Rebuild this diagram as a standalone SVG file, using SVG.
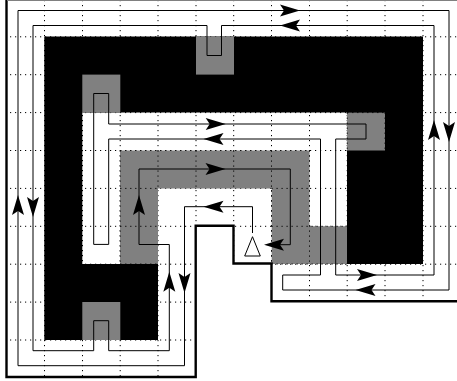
<svg xmlns="http://www.w3.org/2000/svg" width="457" height="381" viewBox="0 0 457 381">
<defs>
<style>
.blk{fill:#000}
.gry{fill:#808080}
.wire{fill:none;stroke:#000;stroke-width:1}
.edge{fill:none;stroke:#000;stroke-width:2.4}
.grid{fill:none;stroke:#000;stroke-width:1;stroke-dasharray:1.2 3.8}
</style>
<path id="ah" d="M0 0L-20 -6L-16 0L-20 6Z" fill="#000"/>
<clipPath id="inside"><path d="M6.5 0H457V301.3H271.5V263.5H233.5V225.7H195.7V377H6.5Z"/></clipPath>
</defs>
<rect width="457" height="381" fill="#fff"/>
<g clip-path="url(#inside)"><path class="grid" d="M44.5 0V381M82.5 0V381M120.2 0V381M158 0V381M196 0V381M233.7 0V381M271.5 0V381M309.5 0V381M347.2 0V381M385 0V381M423 0V381M0 36.8H457M0 74.7H457M0 112.6H457M0 150.5H457M0 188.4H457M0 226.3H457M0 264.2H457M0 302.1H457M0 340H457"/></g>
<path id="metal" class="blk" d="M44.3 36.6H423V264H347V112.6H82.3V264H158V340H44.3Z"/>
<g id="pads">
<rect class="gry" x="196" y="36.6" width="38" height="38"/>
<rect class="gry" x="82.3" y="74.6" width="38" height="38"/>
<rect class="gry" x="347" y="112.6" width="38" height="37.9"/>
<rect class="gry" x="82.3" y="302" width="38" height="38"/>
<path class="gry" d="M120 150.5H309.5V226.3H347V264H271.7V188.4H158V264H120Z"/>
</g>
<path class="grid" d="M120.2 150.5V264M158 150.5V188.4M196 150.5V188.4M233.7 150.5V188.4M271.5 150.5V264M309.5 150.5V264M120.2 150.5H309.5M120.2 188.4H158M271.5 188.4H309.5M120.2 226.3H158M271.5 226.3H347M120.2 264H158M271.5 264H347M347.2 112.6V150.5M385 112.6V150.5M347.2 112.6H385"/>
<g id="connectors">
<path class="wire" d="M252.5 233V206.7H184.5V365.7H18V10.5H449V290H282.7V275H320.5V139H108.7V244.4H93.7V93.5H108.7V124H366V139H335.7V275H434V25.5H221.5V55.5H207V25.5H33V350.7H93.7V320.7H108.7V350.7H169.3V244.5H139V169H290.3V244.7H270"/>
<use href="#ah" transform="translate(225.7 124)"/>
<use href="#ah" transform="translate(203.5 139) rotate(180)"/>
<use href="#ah" transform="translate(225.5 169)"/>
<use href="#ah" transform="translate(300 10.5)"/>
<use href="#ah" transform="translate(280 25.5) rotate(180)"/>
<use href="#ah" transform="translate(434 120) rotate(-90)"/>
<use href="#ah" transform="translate(449 142) rotate(90)"/>
<use href="#ah" transform="translate(18 195) rotate(-90)"/>
<use href="#ah" transform="translate(33 217) rotate(90)"/>
<use href="#ah" transform="translate(139 195) rotate(-90)"/>
<use href="#ah" transform="translate(203.5 206.7) rotate(180)"/>
<use href="#ah" transform="translate(169.3 271.7) rotate(-90)"/>
<use href="#ah" transform="translate(184.5 293) rotate(90)"/>
<use href="#ah" transform="translate(264 244.7) rotate(180)"/>
<use href="#ah" transform="translate(377 275)"/>
<use href="#ah" transform="translate(355.5 290) rotate(180)"/>
</g>
<g id="source"><path d="M252.5 236.7L260.3 256H244.7Z" fill="#fff" stroke="#000" stroke-width="1"/></g>
<path class="edge" d="M6.5 -2V377H195.7V225.7H233.5V263.5H271.5V301.3H459"/>
<path d="M7 0.5H457" stroke="#808080" stroke-width="1" fill="none"/>
</svg>
